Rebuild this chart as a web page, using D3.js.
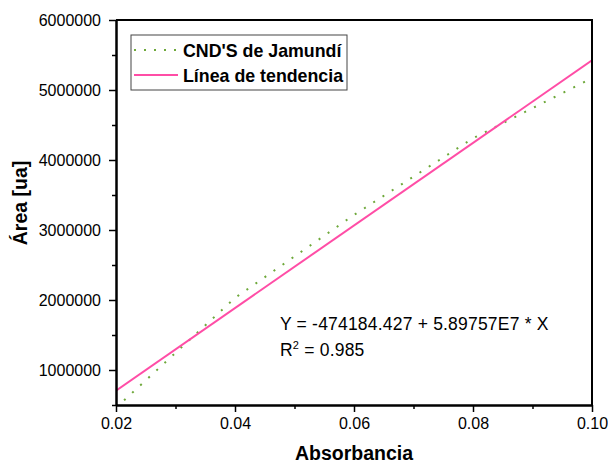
<!DOCTYPE html>
<html>
<head>
<meta charset="utf-8">
<script src="https://cdn.jsdelivr.net/npm/d3@7"></script>
<style>
  html, body { margin: 0; padding: 0; background: #fff; }
  text { font-family: Arial, "Liberation Sans", sans-serif; }
</style>
</head>
<body>
<svg id="chart" width="608" height="463"></svg>
<script>
// ---- data ----
const absorbance = [0.02, 0.04, 0.06, 0.08, 0.10];
const area = [460000, 2030000, 3215000, 4310000, 5170000];
const fitIntercept = -474184.427;
const fitSlope = 5.89757e7;
const rSquared = "0.985";
const xTicks = [0.02, 0.04, 0.06, 0.08, 0.10];
const xMinorTicks = [0.03, 0.05, 0.07, 0.09];
const yTicks = [1000000, 2000000, 3000000, 4000000, 5000000, 6000000];
const yMinorTicks = [500000, 1500000, 2500000, 3500000, 4500000, 5500000];
const seriesNames = ["CND'S de Jamundí", "Línea de tendencia"];
const xTitle = "Absorbancia";
const yTitle = "Área [ua]";

// ---- layout ----
const pL = 116, pR = 592, pT = 20, pB = 405;
const green = "#6ea83a", pink = "#ff4da6";

const svg = d3.select("#chart");
const x = d3.scaleLinear().domain([0.02, 0.10]).range([pL, pR]);
const y = d3.scaleLinear().domain([500000, 6000000]).range([pB, pT]);

svg.append("defs").append("clipPath").attr("id", "clip")
  .append("rect").attr("x", pL).attr("y", pT)
  .attr("width", pR - pL).attr("height", pB - pT);

// data series (dotted)
const line = d3.line().x((d, i) => x(absorbance[i])).y(d => y(d));
svg.append("path")
  .datum(area)
  .attr("clip-path", "url(#clip)")
  .attr("d", line)
  .attr("fill", "none")
  .attr("stroke", green)
  .attr("stroke-width", 2)
  .attr("stroke-dasharray", "2,9");

// trend line
const xs = x.domain();
svg.append("path")
  .datum(xs)
  .attr("clip-path", "url(#clip)")
  .attr("d", d3.line().x(d => x(d)).y(d => y(fitIntercept + fitSlope * d)))
  .attr("fill", "none")
  .attr("stroke", pink)
  .attr("stroke-width", 2);

// frame
svg.append("path")
  .attr("d", `M${pL},${pT}H${pR}V${pB}`)
  .attr("fill", "none").attr("stroke", "#000").attr("stroke-width", 2);

// axes
const xAxis = svg.append("g").attr("transform", `translate(0,${pB})`)
  .call(d3.axisBottom(x).tickValues(xTicks).tickFormat(d3.format(".2f"))
    .tickSize(7).tickPadding(6).tickSizeOuter(0));
const xMinor = svg.append("g").attr("transform", `translate(0,${pB})`)
  .call(d3.axisBottom(x).tickValues(xMinorTicks).tickFormat("").tickSize(4).tickSizeOuter(0));
const yAxis = svg.append("g").attr("transform", `translate(${pL},0)`)
  .call(d3.axisLeft(y).tickValues(yTicks).tickFormat(d3.format("d"))
    .tickSize(7).tickPadding(8).tickSizeOuter(0));
const yMinor = svg.append("g").attr("transform", `translate(${pL},0)`)
  .call(d3.axisLeft(y).tickValues(yMinorTicks).tickFormat("").tickSize(4).tickSizeOuter(0));

[xAxis, xMinor, yAxis, yMinor].forEach(g => {
  g.select(".domain").attr("stroke", "#000").attr("stroke-width", 2);
  g.selectAll(".tick line").attr("stroke", "#000").attr("stroke-width", 1.5);
  g.selectAll("text").attr("font-size", 16).attr("fill", "#000")
    .attr("font-family", "Arial, 'Liberation Sans', sans-serif");
});

// axis titles
svg.append("text").attr("x", 354).attr("y", 460)
  .attr("text-anchor", "middle").attr("font-size", 19.5).attr("font-weight", "bold")
  .text(xTitle);
svg.append("text").attr("transform", "translate(27,203) rotate(-90)")
  .attr("text-anchor", "middle").attr("font-size", 19.5).attr("font-weight", "bold")
  .text(yTitle);

// legend
const lg = svg.append("g");
lg.append("rect").attr("x", 131).attr("y", 35).attr("width", 216).attr("height", 55)
  .attr("fill", "#fff").attr("stroke", "#444").attr("stroke-width", 1);
lg.append("line").attr("x1", 134).attr("x2", 178).attr("y1", 50).attr("y2", 50)
  .attr("stroke", green).attr("stroke-width", 2).attr("stroke-dasharray", "2,8");
lg.append("line").attr("x1", 134).attr("x2", 178).attr("y1", 75).attr("y2", 75)
  .attr("stroke", pink).attr("stroke-width", 2);
lg.append("text").attr("x", 183).attr("y", 56.5).attr("font-size", 17.8).attr("font-weight", "bold").text(seriesNames[0]);
lg.append("text").attr("x", 183).attr("y", 81.5).attr("font-size", 17.8).attr("font-weight", "bold").text(seriesNames[1]);

// equation
svg.append("text").attr("x", 280).attr("y", 329.5).attr("font-size", 17.5).attr("letter-spacing", 0.2)
  .text(`Y = ${fitIntercept.toFixed(3)} + ${(fitSlope / 1e7).toFixed(5)}E7 * X`);
const r2 = svg.append("text").attr("x", 280).attr("y", 355.5).attr("font-size", 17.5).attr("letter-spacing", 0.2);
r2.append("tspan").text("R");
r2.append("tspan").attr("font-size", 11).attr("dy", -7).text("2");
r2.append("tspan").attr("dy", 7).text(` = ${rSquared}`);
</script>
</body>
</html>
